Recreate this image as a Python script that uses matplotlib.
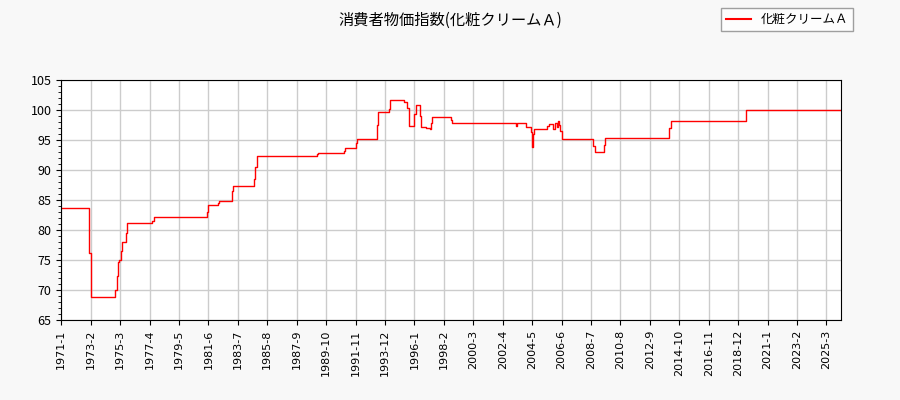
import matplotlib
matplotlib.use("Agg")
import matplotlib.pyplot as plt

plt.rcParams['font.family'] = ['Noto Sans CJK JP', 'DejaVu Sans']

# change points: month index from 1971-01, value from that month on
change_idx = [0, 24, 25, 46, 47, 48, 49, 51, 52, 55, 56, 77, 79, 124, 125, 133, 134, 145, 146,
              164, 165, 166, 217, 218, 240, 241, 250, 251, 268, 269, 278, 279, 291, 294, 295,
              300, 301, 305, 306, 310, 313, 314, 315, 331, 332, 386, 387, 395, 399, 400, 401, 402,
              413, 414, 418, 419, 421, 422, 423, 424, 425, 452, 453, 461, 462, 516, 518, 582, 662]
values = [83.7, 76.2, 68.8, 70.0, 72.3, 74.6, 75.0, 76.5, 78.0, 79.5, 81.1, 81.5, 82.2, 83.0, 84.1, 84.5, 84.8, 86.5, 87.4,
          88.5, 90.5, 92.3, 92.6, 92.8, 93.1, 93.6, 94.5, 95.1, 97.5, 99.6, 100.2, 101.6, 101.4, 100.4, 97.4,
          99.3, 100.8, 99.0, 97.1, 97.0, 96.8, 97.8, 98.8, 98.3, 97.9, 97.3, 97.9, 97.1, 96.3, 93.9, 96.0, 96.8,
          97.3, 97.7, 96.9, 97.8, 97.2, 98.2, 97.5, 96.5, 95.2, 94.0, 93.0, 94.1, 95.3, 97.0, 98.2, 100.0, 100.0]

tick_idx = list(range(0, 660, 25))
tick_labels = [f"{1971 + i // 12}-{i % 12 + 1}" for i in tick_idx]

fig = plt.figure(figsize=(9, 4), dpi=100, facecolor='#f8f8f8')
ax = fig.add_axes([0.068, 0.2, 0.866, 0.6])
ax.set_facecolor('white')
ax.step(change_idx, values, where='post', color='red', lw=1, label='化粧クリームＡ')
ax.set_xlim(0, 662)
ax.set_ylim(65, 105)
ax.set_yticks(range(65, 106, 5))
ax.set_yticks(range(65, 106, 1), minor=True)
ax.set_xticks(tick_idx)
ax.set_xticklabels(tick_labels, rotation=90, fontsize=8, family='DejaVu Sans')
ax.tick_params(axis='y', labelsize=9)
ax.grid(True, color='#cccccc', lw=1)
ax.set_axisbelow(True)
fig.suptitle('消費者物価指数(化粧クリームＡ)', x=0.5, y=0.97, fontsize=11)
leg = fig.legend(loc='upper right', bbox_to_anchor=(0.955, 0.995), fontsize=9, fancybox=False, edgecolor='#888888')
for l in leg.get_lines():
    l.set_linewidth(1.5)
fig.savefig('out.png')
